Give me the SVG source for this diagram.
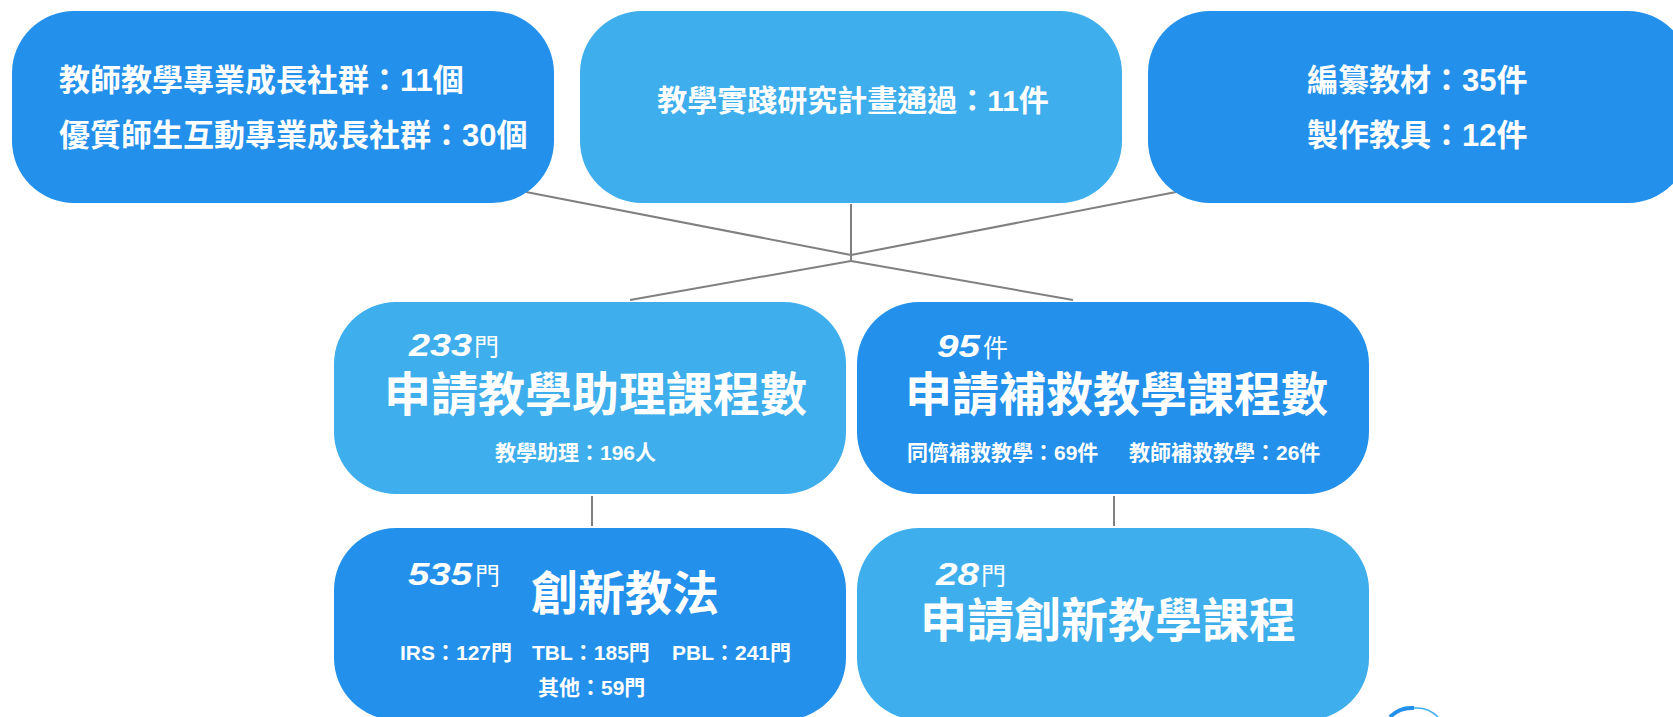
<svg xmlns="http://www.w3.org/2000/svg" width="1673" height="717" viewBox="0 0 1673 717">
<style>
.dark{fill:#2391EB;}
.light{fill:#3EAEEC;}
text{fill:#ffffff;font-family:"Liberation Sans","Noto Sans CJK TC",sans-serif;font-weight:bold;}
.t30{font-size:30px;}
.t31{font-size:31px;}
.t47{font-size:47px;}
.t21{font-size:21px;}
.num{font-size:32px;font-style:italic;}
.unit{font-size:25px;font-weight:normal;}
.conn line{stroke:#808080;stroke-width:2;}
</style>
<rect width="1673" height="717" fill="#ffffff"/>
<g id="connectors" class="conn">
<line x1="526" y1="192" x2="851" y2="255"/>
<line x1="851" y1="204" x2="851" y2="261"/>
<line x1="1176" y1="192" x2="851" y2="255"/>
<line x1="851" y1="261" x2="630" y2="300"/>
<line x1="851" y1="261" x2="1073" y2="300"/>
<line x1="592" y1="496" x2="592" y2="526"/>
<line x1="1114" y1="496" x2="1114" y2="526"/>
</g>
<g id="node-community">
<rect class="dark" x="12" y="11" width="542" height="192" rx="62" ry="62"/>
<text class="t31" x="59" y="91">教師教學專業成長社群：11個</text>
<text class="t31" x="59" y="146">優質師生互動專業成長社群：30個</text>
</g>
<g id="node-research">
<rect class="light" x="580" y="11" width="542" height="192" rx="62" ry="62"/>
<text class="t30" x="853" y="111" text-anchor="middle">教學實踐研究計畫通過：11件</text>
</g>
<g id="node-materials">
<rect class="dark" x="1148" y="11" width="542" height="192" rx="62" ry="62"/>
<text class="t31" x="1307" y="91">編纂教材：35件</text>
<text class="t31" x="1307" y="146">製作教具：12件</text>
</g>
<g id="node-ta">
<rect class="light" x="334" y="302" width="512" height="192" rx="62" ry="62"/>
<text class="num" x="409" y="356" textLength="63" lengthAdjust="spacingAndGlyphs">233</text>
<text class="unit" x="474" y="356">門</text>
<text class="t47" x="384" y="411">申請教學助理課程數</text>
<text class="t21" x="495" y="460">教學助理：196人</text>
</g>
<g id="node-remedial">
<rect class="dark" x="857" y="302" width="512" height="192" rx="62" ry="62"/>
<text class="num" x="937" y="357" textLength="43" lengthAdjust="spacingAndGlyphs">95</text>
<text class="unit" x="983" y="357">件</text>
<text class="t47" x="905" y="411">申請補救教學課程數</text>
<text class="t21" x="907" y="460">同儕補救教學：69件</text>
<text class="t21" x="1129" y="460">教師補救教學：26件</text>
</g>
<g id="node-innovative-methods">
<rect class="dark" x="334" y="528" width="512" height="192" rx="62" ry="62"/>
<text class="num" x="408" y="585" textLength="64" lengthAdjust="spacingAndGlyphs">535</text>
<text class="unit" x="475" y="585">門</text>
<text class="t47" x="531" y="610">創新教法</text>
<text class="t21" x="400" y="660">IRS：127門</text>
<text class="t21" x="532" y="660">TBL：185門</text>
<text class="t21" x="672" y="660">PBL：241門</text>
<text class="t21" x="538" y="695">其他：59門</text>
</g>
<g id="node-innovative-courses">
<rect class="light" x="857" y="528" width="512" height="192" rx="62" ry="62"/>
<text class="num" x="936" y="585" textLength="43" lengthAdjust="spacingAndGlyphs">28</text>
<text class="unit" x="981" y="585">門</text>
<text class="t47" x="920" y="637">申請創新教學課程</text>
</g>
<g id="corner-mark">
<path d="M1390 717 A30 30 0 0 1 1414 708" fill="none" stroke="#2391EB" stroke-width="4"/>
<path d="M1414 708 A30 30 0 0 1 1438 717" fill="none" stroke="#3EAEEC" stroke-width="1.5"/>
</g>
</svg>
